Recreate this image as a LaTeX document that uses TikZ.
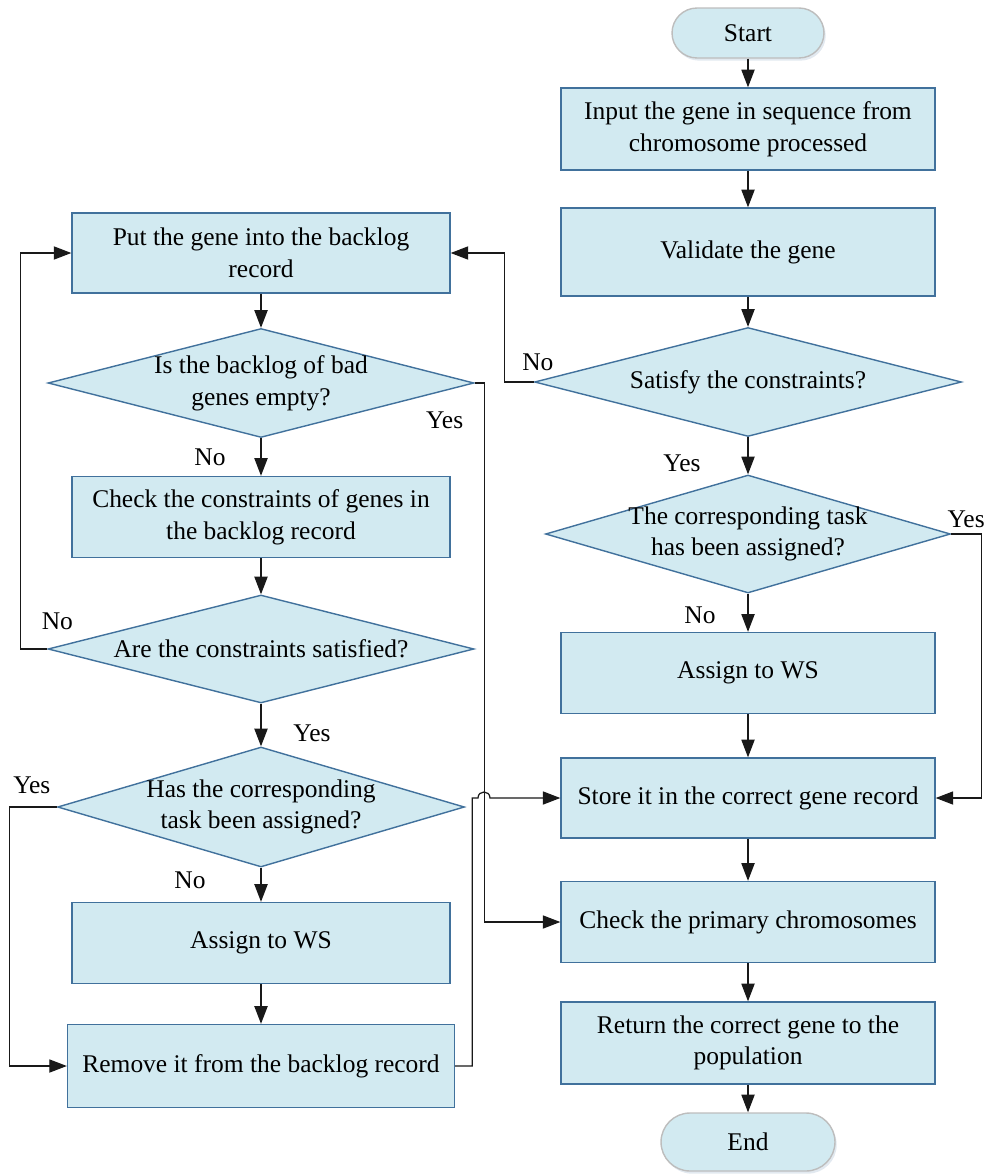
\documentclass[tikz,border=0pt]{standalone}
\usepackage{fontspec}
\setmainfont{Liberation Serif}
\usetikzlibrary{arrows.meta,shapes,shadows}

\definecolor{boxfill}{HTML}{D2EAF1}
\definecolor{boxline}{HTML}{41719C}
\definecolor{termline}{HTML}{BDBDBD}

\begin{document}
\begin{tikzpicture}[x=0.02cm,y=-0.02cm,
  every node/.style={align=center,font=\fontsize{14.5}{18}\selectfont},
  terminal/.style={draw=termline,line width=0.8pt,fill=boxfill,
    drop shadow={shadow xshift=1pt,shadow yshift=-1.5pt,fill=boxline!30,opacity=0.5}},
  process/.style={draw=boxline,line width=0.8pt,fill=boxfill,minimum width=7.48cm,minimum height=1.62cm},
  decision/.style={draw=boxline,line width=0.8pt,fill=boxfill,shape=diamond,aspect=3.6,
    inner sep=-3pt,minimum width=8.54cm,minimum height=2.18cm},
  answer/.style={inner sep=0pt},
  flow/.style={-{Triangle[length=10pt,width=7.5pt]},line width=0.7pt,black!90}]

    \useasboundingbox (0,0) rectangle (985,1176);

    % right column
    \node[terminal,rounded corners=0.5cm,minimum width=3.04cm,minimum height=1cm] (start) at (748,33) {Start};
    \node[process,minimum height=1.64cm] (s1) at (748,129) {Input the gene in sequence from\\chromosome processed};
    \node[process,minimum height=1.76cm] (s2) at (748,252) {Validate the gene};
    \node[decision] (d1) at (748,382) {Satisfy the constraints?};
    \node[decision,minimum width=8.1cm,minimum height=2.36cm] (d2) at (748,534) {The corresponding task\\has been assigned?};
    \node[process] (s3) at (748,673) {Assign to WS};
    \node[process,minimum height=1.6cm] (s4) at (748,798) {Store it in the correct gene record};
    \node[process] (s5) at (748,922) {Check the primary chromosomes};
    \node[process,minimum height=1.64cm] (s6) at (748,1043) {Return the correct gene to the\\population};
    \node[terminal,rounded corners=0.58cm,minimum width=3.48cm,minimum height=1.16cm] (stop) at (748,1142) {End};

    % left column
    \node[process,minimum width=7.56cm,minimum height=1.6cm] (l1) at (261,253) {Put the gene into the backlog\\record};
    \node[decision,minimum width=8.52cm] (ld1) at (261,383) {Is the backlog of bad\\genes empty?};
    \node[process,minimum width=7.56cm] (l2) at (261,517) {Check the constraints of genes in\\the backlog record};
    \node[decision,minimum width=8.52cm,minimum height=2.16cm] (ld2) at (261,649) {Are the constraints satisfied?};
    \node[decision,minimum width=8.14cm,minimum height=2.4cm] (ld3) at (261,807) {Has the corresponding\\task been assigned?};
    \node[process,minimum width=7.56cm] (l3) at (261,943) {Assign to WS};
    \node[process,minimum width=7.74cm,minimum height=1.66cm] (l4) at (261,1066) {Remove it from the backlog record};

    % answers
    \node[answer] (d1no) at ([shift={(4,-20)}]d1.west) {No};
    \node[answer] (d1yes) at ([shift={(-66,26)}]d1.south) {Yes};
    \node[answer] (d2yes) at ([shift={(15,-15)}]d2.east) {Yes};
    \node[answer] (d2no) at ([shift={(-48,22)}]d2.south) {No};
    \node[answer] (ld1yes) at ([shift={(-30,37)}]ld1.east) {Yes};
    \node[answer] (ld1no) at ([shift={(-51,19)}]ld1.south) {No};
    \node[answer] (ld2no) at ([shift={(10,-28)}]ld2.west) {No};
    \node[answer] (ld2yes) at ([shift={(51,30)}]ld2.south) {Yes};
    \node[answer] (ld3yes) at ([shift={(-25,-22)}]ld3.west) {Yes};
    \node[answer] (ld3no) at ([shift={(-71,13)}]ld3.south) {No};

    \draw[flow] (start) -- (s1);
    \draw[flow] (s1) -- (s2);
    \draw[flow] (s2) -- (d1);
    \draw[flow] (d1) -- (d2);
    \draw[flow] (d2) -- (s3);
    \draw[flow] (s3) -- (s4);
    \draw[flow] (s4) -- (s5);
    \draw[flow] (s5) -- (s6);
    \draw[flow] (s6) -- (stop);
    \draw[flow] (d1.west) -- ++(-29,0) |- (l1.east);
    \draw[flow] (d2.east) -- ++(30,0) |- (s4.east);

    \draw[flow] (l1) -- (ld1);
    \draw[flow] (ld1) -- (l2);
    \draw[flow] (l2) -- (ld2);
    \draw[flow] (ld2) -- (ld3);
    \draw[flow] (ld3) -- (l3);
    \draw[flow] (l3) -- (l4);
    \draw[flow] (ld2.west) -- ++(-27,0) |- (l1.west);
    \draw[flow] (ld3.west) -- ++(-47,0) |- (l4.west);
    \draw[flow] (ld1.east) -- ++(10,0) |- (s5.west);
    \draw[flow] (l4.east) -- ++(17,0) |- (478,798) .. controls (478,790) and (490,790) .. (490,798) -- (s4.west);
\end{tikzpicture}
\end{document}
